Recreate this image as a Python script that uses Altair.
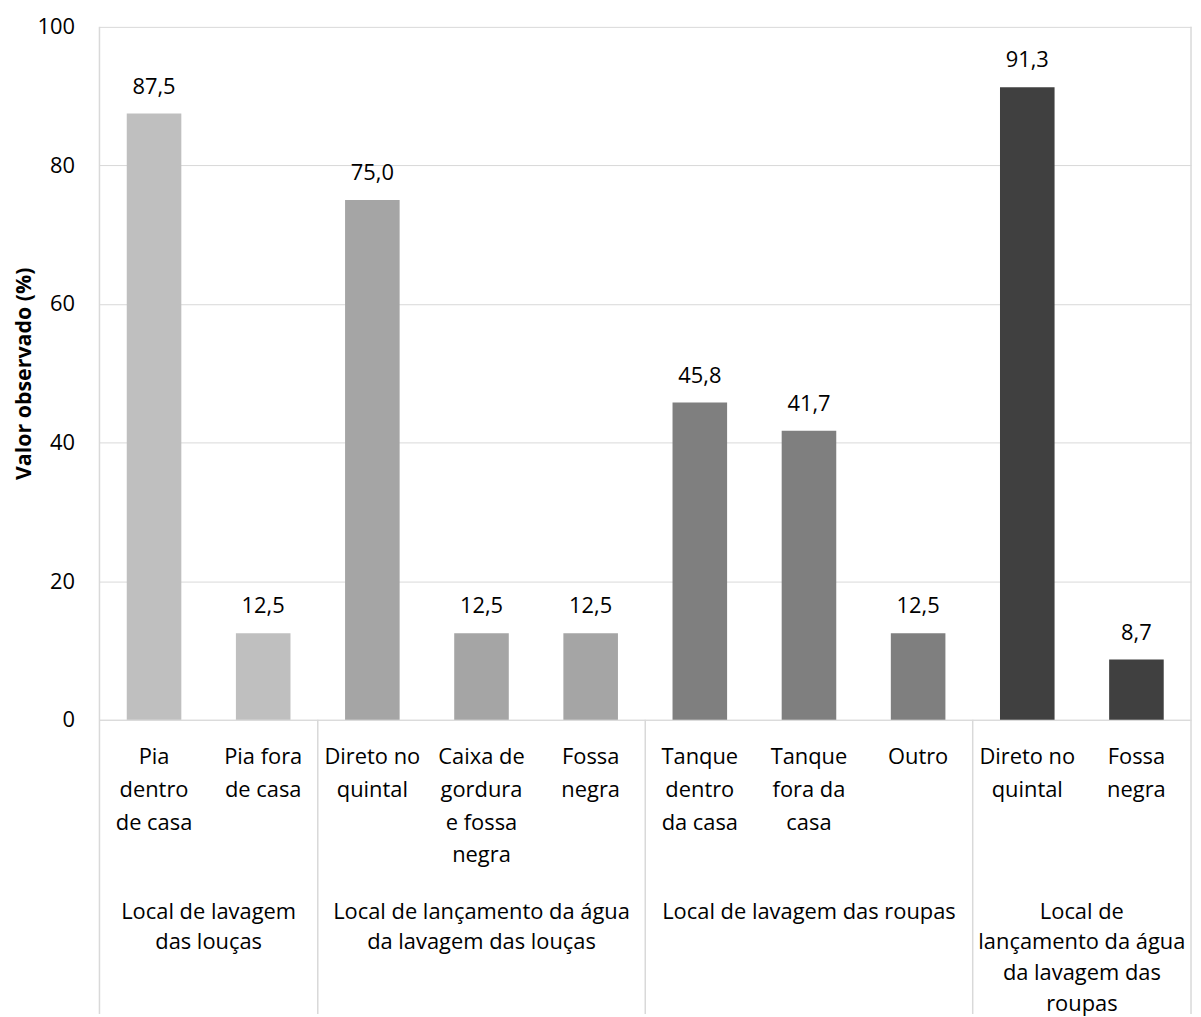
import altair as alt
import pandas as pd

# ---- data ----
groups = [
    "Local de lavagem das louças",
    "Local de lançamento da água da lavagem das louças",
    "Local de lavagem das roupas",
    "Local de lançamento da água da lavagem das roupas",
]
group_labels = [
    "Local de lavagem~das louças",
    "Local de lançamento da água~da lavagem das louças",
    "Local de lavagem das roupas",
    "Local de~lançamento da água~da lavagem das~roupas",
]
group_sizes = [2, 3, 3, 2]
group_colors = ["#BFBFBF", "#A5A5A5", "#7F7F7F", "#404040"]

categories = [
    "Pia~dentro~de casa",
    "Pia fora~de casa",
    "Direto no~quintal",
    "Caixa de~gordura~e fossa~negra",
    "Fossa~negra",
    "Tanque~dentro~da casa",
    "Tanque~fora da~casa",
    "Outro",
    "Direto no~quintal",
    "Fossa~negra",
]
values = [87.5, 12.5, 75.0, 12.5, 12.5, 45.8, 41.7, 12.5, 91.3, 8.7]

# ---- tables ----
cat_group = [g for g, n in zip(groups, group_sizes) for _ in range(n)]
df = pd.DataFrame({
    "key": [f"{i}~{c}" for i, c in enumerate(categories)],
    "group": cat_group,
    "value": values,
    "label": [f"{v:.1f}".replace(".", ",") for v in values],
})

bounds = [0]
for n in group_sizes:
    bounds.append(bounds[-1] + n)
ncat = bounds[-1]
gdf = pd.DataFrame({
    "pos": [(bounds[i] + bounds[i + 1]) / 2 for i in range(len(groups))],
    "glabel": group_labels,
})
sep_outer = pd.DataFrame({"pos": [bounds[0], bounds[-1]]})
sep_inner = pd.DataFrame({"pos": bounds[1:-1]})

# ---- layout ----
W, H = 1098, 697
PAD_L, PAD_T = 92, 16
TOTAL_H = 1009
BOTTOM = TOTAL_H - PAD_T  # relative to plot top
FONT = "Open Sans"
FS = 22
LINE = "#D9D9D9"

xband = alt.X(
    "key:N", sort=None,
    scale=alt.Scale(paddingInner=0.5, paddingOuter=0.25),
    axis=alt.Axis(
        title=None, labelExpr="slice(split(datum.value, '~'), 1)",
        labelAngle=0, labelFontSize=FS, labelLineHeight=33, labelPadding=27,
        ticks=False, domainColor=LINE, labelColor="black", labelFont=FONT,
        labelLimit=0,
    ),
)
yq = alt.Y(
    "value:Q",
    scale=alt.Scale(domain=[0, 100], nice=False),
    axis=alt.Axis(
        values=[0, 20, 40, 60, 80, 100], title="Valor observado (%)",
        domain=False, ticks=False, gridColor=LINE, labelPadding=25,
        labelFontSize=FS, labelFont=FONT, labelColor="black",
        titleFont=FONT, titleFontSize=21.5, titleFontWeight="bold",
        titleColor="black", titleX=-75, titleY=H / 2, titleBaseline="middle",
        titleAlign="center",
    ),
)
xq = alt.X("pos:Q", scale=alt.Scale(domain=[0, ncat], nice=False, zero=False), axis=None)

bars = alt.Chart(df).mark_bar().encode(
    x=xband, y=yq,
    color=alt.Color("group:N", scale=alt.Scale(domain=groups, range=group_colors), legend=None),
)
vals = alt.Chart(df).mark_text(dy=-27, fontSize=FS, font=FONT, color="black").encode(
    x=alt.X("key:N", sort=None), y=alt.Y("value:Q"), text="label:N",
)
rules_outer = alt.Chart(sep_outer).mark_rule(color=LINE, strokeWidth=1.5).encode(
    x=xq, y=alt.value(0), y2=alt.value(BOTTOM),
)
rules_inner = alt.Chart(sep_inner).mark_rule(color=LINE, strokeWidth=1.5).encode(
    x=xq, y=alt.value(H), y2=alt.value(BOTTOM),
)
gtext = alt.Chart(gdf).mark_text(
    lineBreak="~", baseline="top", fontSize=FS, font=FONT, color="black", lineHeight=31,
).encode(x=xq, y=alt.value(880), text="glabel:N")

main = alt.layer(bars, vals)
frame = alt.layer(rules_outer, rules_inner, gtext)

chart = alt.layer(main, frame).resolve_scale(
    x="independent"
).properties(
    width=W, height=H,
    autosize=alt.AutoSizeParams(type="none"),
    padding={"left": PAD_L, "top": PAD_T, "right": 2, "bottom": TOTAL_H - PAD_T - H},
    background="white",
).configure_view(stroke=None)

chart.save("out.html", embed_options={"renderer": "svg", "actions": False})
